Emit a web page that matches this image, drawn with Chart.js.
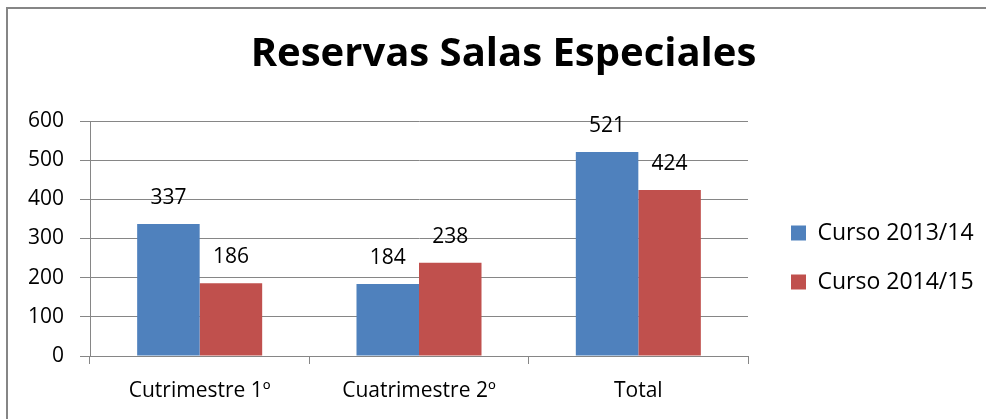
<!DOCTYPE html>
<html>
<head>
<meta charset="utf-8">
<script src="https://cdn.jsdelivr.net/npm/chart.js@4.4.1/dist/chart.umd.min.js"></script>
<style>
  body { margin: 0; background: #fff; }
  #wrap { position: absolute; left: 0; top: 0; width: 986px; height: 419px; }
  #frame { position: absolute; left: 6px; top: 7px; width: 990px; height: 430px;
           border-top: 2px solid #868686; border-left: 2px solid #868686; }
  #chart { position: absolute; left: 0; top: 0; }
</style>
</head>
<body>
<div id="wrap">
  <div id="frame"></div>
  <canvas id="chart" width="986" height="419"></canvas>
</div>
<script>
const categories = ['Cutrimestre 1º', 'Cuatrimestre 2º', 'Total'];
const seriesNames = ['Curso 2013/14', 'Curso 2014/15'];
const curso1314 = [337, 184, 521];
const curso1415 = [186, 238, 424];
const yTicks = [0, 100, 200, 300, 400, 500, 600];

const FONT = '"Open Sans", Calibri, sans-serif';

// valores encima de cada barra
const valueLabels = {
  id: 'valueLabels',
  afterDatasetsDraw(chart) {
    const ctx = chart.ctx;
    ctx.save();
    ctx.font = '21px ' + FONT;
    ctx.fillStyle = '#000';
    ctx.textAlign = 'center';
    ctx.textBaseline = 'middle';
    chart.data.datasets.forEach((ds, i) => {
      chart.getDatasetMeta(i).data.forEach((bar, j) => {
        ctx.fillText(ds.data[j], bar.x, bar.y - 26);
      });
    });
    ctx.restore();
  }
};

new Chart(document.getElementById('chart'), {
  type: 'bar',
  data: {
    labels: categories,
    datasets: [
      { label: seriesNames[0], data: curso1314, backgroundColor: '#4F81BD', borderWidth: 0 },
      { label: seriesNames[1], data: curso1415, backgroundColor: '#C0504D', borderWidth: 0 }
    ]
  },
  options: {
    responsive: false,
    animation: false,
    categoryPercentage: 0.57,
    barPercentage: 1,
    layout: { padding: { left: 27, right: 6, top: 0, bottom: 0 } },
    plugins: {
      title: {
        display: true,
        text: 'Reservas Salas Especiales',
        color: '#000',
        font: { family: FONT, size: 40, weight: 'bold' },
        padding: { top: 31, bottom: 42 }
      },
      legend: {
        position: 'right',
        maxWidth: 215,
        title: { display: true, text: '', font: { size: 10 }, padding: { top: 84, bottom: 0 } },
        labels: {
          color: '#000',
          font: { family: FONT, size: 23 },
          boxWidth: 15,
          boxHeight: 15,
          padding: 26
        }
      },
      tooltip: { enabled: false }
    },
    scales: {
      x: {
        afterFit: (s) => { s.height = 63; },
        grid: { drawOnChartArea: false, drawTicks: true, tickLength: 8, color: '#868686', offset: true },
        border: { color: '#868686' },
        ticks: { color: '#000', font: { family: FONT, size: 21 }, padding: 14 }
      },
      y: {
        min: 0, max: 600,
        afterBuildTicks: (s) => { s.ticks = yTicks.map(v => ({ value: v })); },
        afterFit: (s) => { s.width = 63; },
        grid: { color: '#868686', tickLength: 10 },
        border: { color: '#868686' },
        ticks: { color: '#000', font: { family: FONT, size: 21 }, padding: 16 }
      },
      // hueco entre el área del gráfico y la leyenda
      gap: {
        type: 'linear', position: 'right',
        afterFit: (s) => { s.width = 17; },
        grid: { display: false }, border: { display: false }, ticks: { display: false }
      }
    }
  },
  plugins: [valueLabels]
});
</script>
</body>
</html>
